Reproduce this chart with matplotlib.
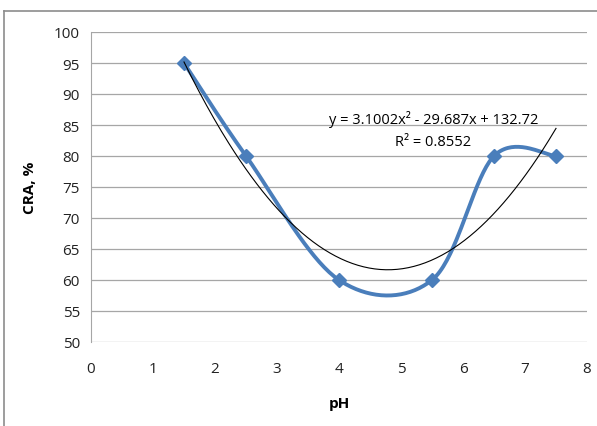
import numpy as np
import matplotlib
matplotlib.use("Agg")
import matplotlib.pyplot as plt
from matplotlib.lines import Line2D

ph = [1.5, 2.5, 4.0, 5.5, 6.5, 7.5]
cra = [95, 80, 60, 60, 80, 80]
coef = [3.1002, -29.687, 132.72]
eq_text = "y = 3.1002x² - 29.687x + 132.72"
r2_text = "R² = 0.8552"
xticks = list(range(0, 9))
yticks = list(range(50, 101, 5))

plt.rcParams['font.family'] = ['Open Sans', 'DejaVu Sans']

fig = plt.figure(figsize=(5.97, 4.27), dpi=100)
ax = fig.add_axes([91/597, 1-343/427, (587-91)/597, (343-33)/427])

# Excel-style smoothed curve (Bezier with Catmull-Rom control points)
def excel_smooth(x, y, n=40):
    P = np.column_stack([x, y]).astype(float)
    out = []
    for i in range(len(P)-1):
        p0 = P[i-1] if i > 0 else P[i]
        p1 = P[i]
        p2 = P[i+1]
        p3 = P[i+2] if i+2 < len(P) else P[i+1]
        c1 = p1 + (p2 - p0) / 6.0
        c2 = p2 - (p3 - p1) / 6.0
        t = np.linspace(0, 1, n)[:, None]
        seg = ((1-t)**3)*p1 + 3*((1-t)**2)*t*c1 + 3*(1-t)*(t**2)*c2 + (t**3)*p2
        out.append(seg if i == 0 else seg[1:])
    s = np.vstack(out)
    return s[:, 0], s[:, 1]

sx, sy = excel_smooth(ph, cra)
blue = '#4a7ebb'
ax.plot(sx, sy, color=blue, lw=2.8, zorder=3, solid_capstyle='round')
ax.plot(ph, cra, linestyle='none', marker='D', markersize=7.5, color=blue, zorder=4)

tx = np.linspace(min(ph), max(ph), 200)
ty = np.polyval(coef, tx)
ax.plot(tx, ty, color='black', lw=0.8, zorder=5)

ax.set_xlim(0, 8)
ax.set_ylim(50, 100)
ax.set_xticks(xticks)
ax.set_yticks(yticks)
ax.yaxis.grid(True, color='#a6a6a6', lw=0.9)
ax.set_axisbelow(True)
for s in ['top', 'right', 'bottom']:
    ax.spines[s].set_visible(False)
ax.spines['left'].set_color('#a6a6a6')
ax.tick_params(length=0, labelsize=11, colors='#222222')
ax.tick_params(axis='x', pad=14)
ax.tick_params(axis='y', pad=8)
ax.set_xlabel('pH', fontsize=11, fontweight='bold', labelpad=14)
ax.set_ylabel('CRA, %', fontsize=11, fontweight='bold', labelpad=12)

ax.text(5.52, 86.0, eq_text, fontsize=10.5, ha='center', va='center', zorder=6)
ax.text(5.52, 82.3, r2_text, fontsize=10.5, ha='center', va='center', zorder=6)

# outer chart border (left and top visible)
fig.add_artist(Line2D([3.5/597, 3.5/597], [0, 1-11.5/427], transform=fig.transFigure, color='#8c8c8c', lw=1.2))
fig.add_artist(Line2D([3.5/597, 1], [1-11.5/427, 1-11.5/427], transform=fig.transFigure, color='#8c8c8c', lw=1.2))

fig.savefig('out.png', dpi=100)
